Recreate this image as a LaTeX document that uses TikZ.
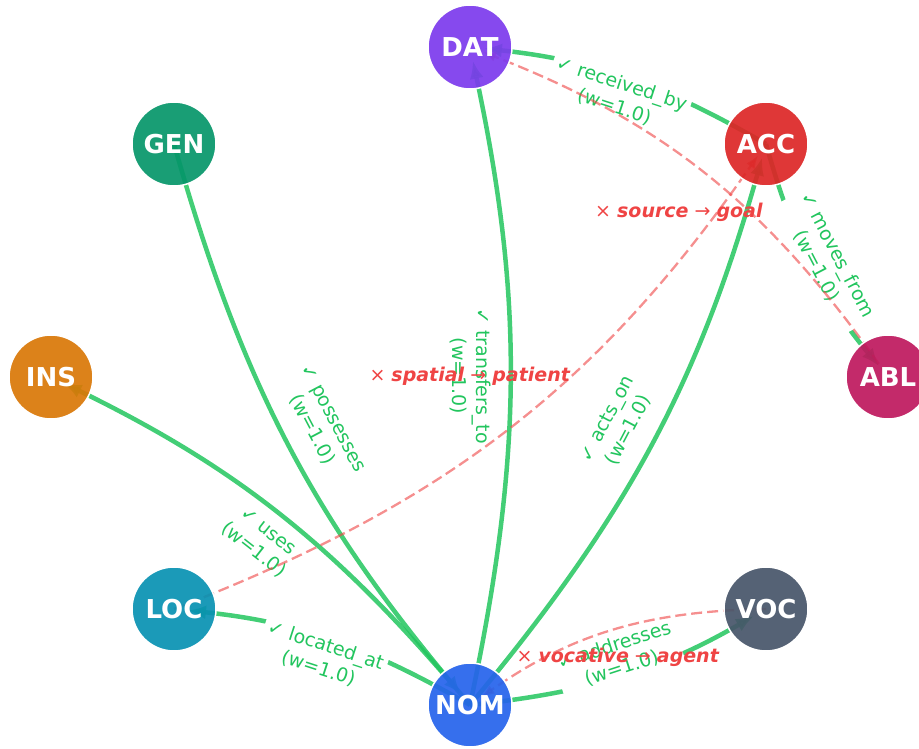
\documentclass[tikz,border=0pt]{standalone}
\usepackage{fontspec}
\setmainfont{DejaVu Sans}
\usetikzlibrary{arrows.meta,backgrounds,calc}
\definecolor{okgreen}{RGB}{34,197,94}
\definecolor{badred}{RGB}{239,68,68}
\definecolor{datcol}{RGB}{124,58,237}
\definecolor{gencol}{RGB}{5,150,105}
\definecolor{acccol}{RGB}{220,38,38}
\definecolor{inscol}{RGB}{217,119,6}
\definecolor{ablcol}{RGB}{190,24,93}
\definecolor{loccol}{RGB}{8,145,178}
\definecolor{voccol}{RGB}{71,85,105}
\definecolor{nomcol}{RGB}{37,99,235}
\tikzset{
case/.style={circle,minimum size=84pt,inner sep=0pt,fill=#1,fill opacity=0.92,text opacity=1,draw=white,line width=1.5pt,text=white,font=\fontsize{26}{30}\selectfont\bfseries},
good/.style={draw=okgreen,opacity=0.85,line width=4.5pt,-{Latex[length=18pt,width=14pt]},shorten >=14pt},
bad/.style={draw=badred,opacity=0.6,line width=2.3pt,dash pattern=on 11pt off 5pt,-{Latex[length=13pt,width=10pt]},shorten >=14pt},
goodlbl/.style={fill=white,text=okgreen,align=center,inner sep=4pt,font=\fontsize{19}{24}\selectfont},
badlbl/.style={text=badred,inner sep=2pt,font=\fontsize{19}{24}\selectfont}
}

\begin{document}
\begin{tikzpicture}[x=1pt,y=1pt]
\useasboundingbox (0,0) rectangle (919,748);
% the eight cases
\node[case=datcol] (DAT) at (470,701) {DAT};
\node[case=gencol] (GEN) at (174,604) {GEN};
\node[case=acccol] (ACC) at (766,604) {ACC};
\node[case=inscol] (INS) at (51,371) {INS};
\node[case=ablcol] (ABL) at (888,371) {ABL};
\node[case=loccol] (LOC) at (174,139) {LOC};
\node[case=voccol] (VOC) at (766,139) {VOC};
\node[case=nomcol] (NOM) at (470,43) {NOM};

\begin{scope}[on background layer]
% valid relations
\draw[good] (GEN.center) to[bend right=12] (NOM.center);
\draw[good] (NOM.center) to[bend right=12] (DAT.center);
\draw[good] (NOM.center) to[bend right=12] (ACC.center);
\draw[good] (NOM.center) to[bend right=12] (INS.center);
\draw[good] (NOM.center) to[bend right=12] (LOC.center);
\draw[good] (NOM.center) to[bend right=12] (VOC.center);
\draw[good] (ACC.center) to[bend right=12] (DAT.center);
\draw[good] (ACC.center) to[bend right=12] (ABL.center);
\node[goodlbl,rotate=-18.1] (lrec) at ($(DAT)!0.5!(ACC)$) {✓ received\_by\\(w=1.0)};
\node[goodlbl,rotate=-62.4] (lmov) at ($(ACC)!0.5!(ABL)$) {✓ moves\_from\\(w=1.0)};
\node[goodlbl,rotate=-62.2] (lpos) at ($(GEN)!0.5!(NOM)$) {✓ possesses\\(w=1.0)};
\node[goodlbl,rotate=-90] (ltra) at ($(DAT)!0.5!(NOM)$) {✓ transfers\_to\\(w=1.0)};
\node[goodlbl,rotate=62.2] (lact) at ($(NOM)!0.5!(ACC)$) {✓ acts\_on\\(w=1.0)};
\node[goodlbl,rotate=-38.1] (luse) at ($(INS)!0.5!(NOM)$) {✓ uses\\(w=1.0)};
\node[goodlbl,rotate=-18] (lloc) at ($(LOC)!0.5!(NOM)$) {✓ located\_at\\(w=1.0)};
\node[goodlbl,rotate=18] (ladd) at ($(NOM)!0.5!(VOC)$) {✓ addresses\\(w=1.0)};
% violated relations
\draw[bad] (ABL.center) to[bend right=17] (DAT.center);
\draw[bad] (LOC.center) to[bend right=17] (ACC.center);
\draw[bad] (VOC.center) to[bend right=17] (NOM.center);
\node[badlbl] (lsrc) at ($(ABL)!0.5!(DAT)$) {× \textbf{\textit{source}} → \textbf{\textit{goal}}};
\node[badlbl] (lspa) at ($(LOC)!0.5!(ACC)$) {× \textbf{\textit{spatial}} → \textbf{\textit{patient}}};
\node[badlbl] (lvoc) at ($(VOC)!0.5!(NOM)$) {× \textbf{\textit{vocative}} → \textbf{\textit{agent}}};
\end{scope}
\end{tikzpicture}
\end{document}
